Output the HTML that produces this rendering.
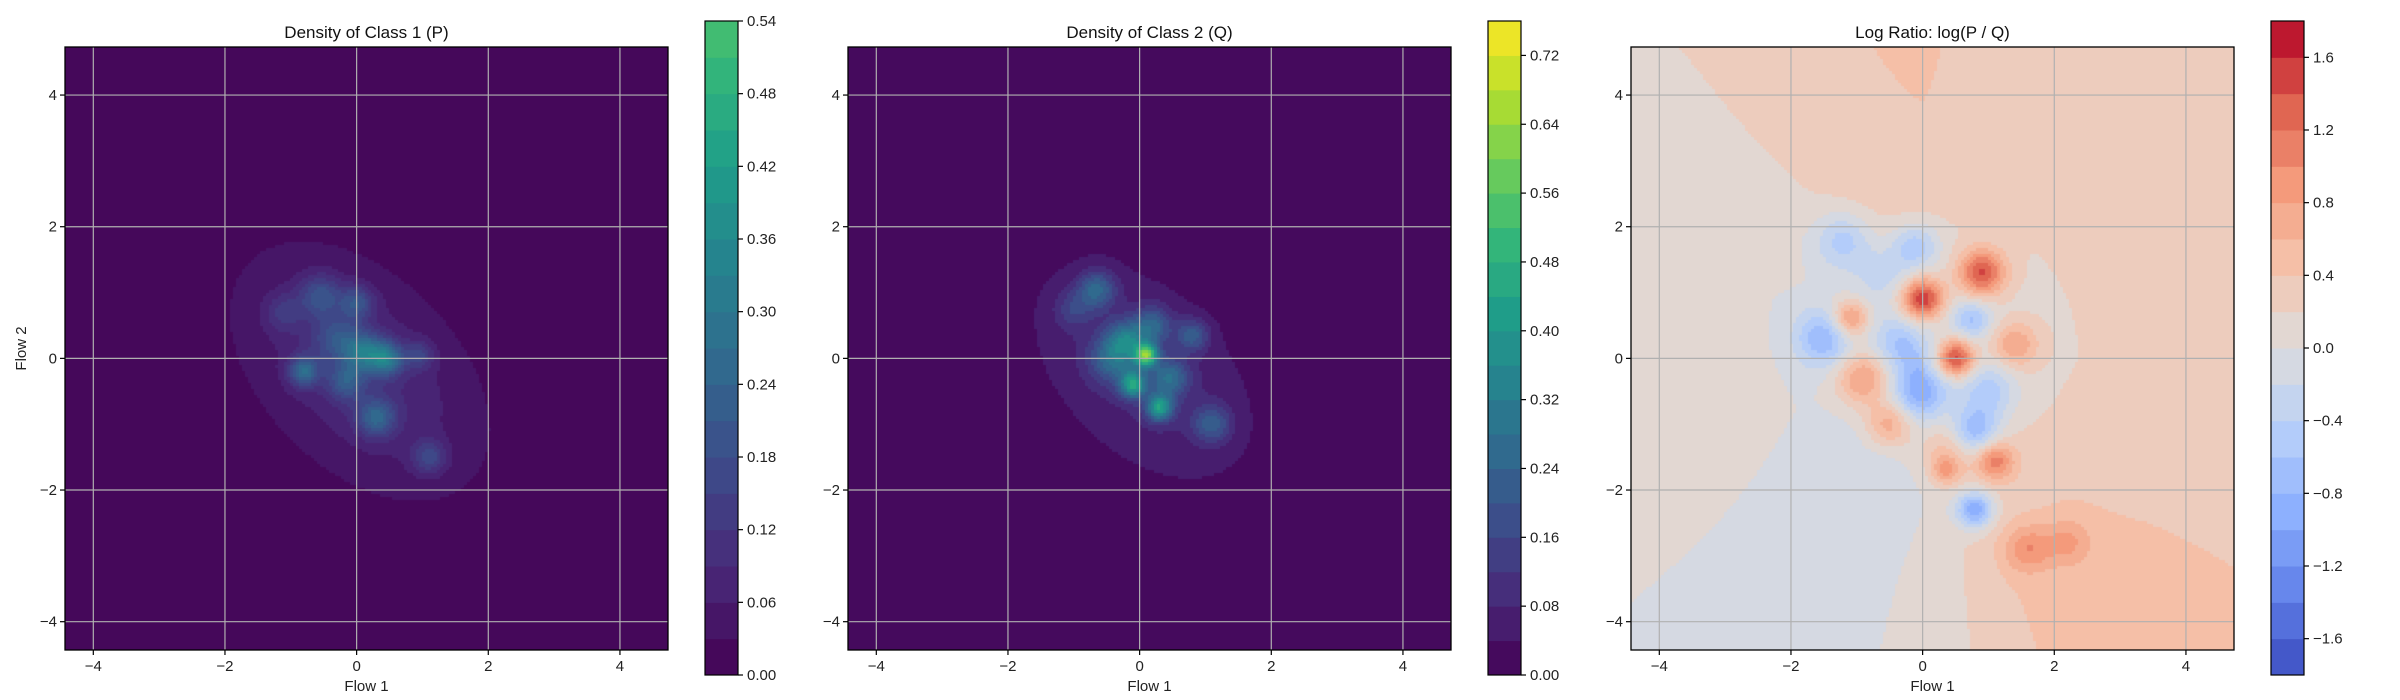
<!DOCTYPE html>
<html><head><meta charset="utf-8">
<style>
html,body{margin:0;padding:0;background:#fff;}
#root{position:relative;width:2400px;height:700px;overflow:hidden;font-family:"Liberation Sans","DejaVu Sans",sans-serif;}
canvas{position:absolute;}
svg{position:absolute;left:0;top:0;}
</style></head>
<body>
<div id="root">
<canvas id="c0" width="603" height="603" style="left:65px;top:47px"></canvas>
<canvas id="c1" width="603" height="603" style="left:848px;top:47px"></canvas>
<canvas id="c2" width="603" height="603" style="left:1631px;top:47px"></canvas>
<svg id="ov" width="2400" height="700"></svg>
</div>
<script>
// ---- data ----
const xTicks = [-4, -2, 0, 2, 4];
const yTicks = [-4, -2, 0, 2, 4];
const axisRange = [-4.43, 4.73];
const titles = ["Density of Class 1 (P)", "Density of Class 2 (Q)", "Log Ratio: log(P / Q)"];
const cbTicks0 = [0.00,0.06,0.12,0.18,0.24,0.30,0.36,0.42,0.48,0.54];
const cbTicks1 = [0.00,0.08,0.16,0.24,0.32,0.40,0.48,0.56,0.64,0.72];
const cbTicks2 = [-1.6,-1.2,-0.8,-0.4,0.0,0.4,0.8,1.2,1.6];
const cbRange0 = [0, 0.54], cbStep0 = 0.03;
const cbRange1 = [0, 0.76], cbStep1 = 0.04;
const cbRange2 = [-1.8, 1.8], cbStep2 = 0.2;
const sharedNorm = [0, 0.76];

// density P blobs
const pX   = [0.05, -0.8, 0.45, 0.3, -0.55, 0.0, 1.1, -0.15, 0.1, -1.1, 0.95, -0.3];
const pY   = [-0.2, -0.2, 0.0, -0.9, 0.95, 0.85, -1.5, -0.35, 0.1, 0.7, 0.05, 0.3];
const pAmp = [0.095, 0.2, 0.24, 0.18, 0.14, 0.14, 0.12, 0.14, 0.2, 0.08, 0.1, 0.12];
const pSig = [1.05, 0.16, 0.18, 0.2, 0.22, 0.18, 0.18, 0.2, 0.2, 0.2, 0.15, 0.25];
// density Q blobs
const qX   = [0.05, 0.1, -0.1, 0.3, -0.65, 0.8, 1.1, -1.0, -0.4, 0.45, 0.2, -0.2];
const qY   = [-0.2, 0.05, -0.4, -0.75, 1.05, 0.35, -1.0, 0.75, 0.0, -0.3, 0.5, 0.3];
const qAmp = [0.095, 0.5, 0.35, 0.35, 0.2, 0.17, 0.17, 0.1, 0.2, 0.2, 0.18, 0.2];
const qSig = [1.0, 0.12, 0.14, 0.14, 0.2, 0.17, 0.2, 0.2, 0.25, 0.2, 0.2, 0.2];
// log ratio blobs
const rX   = [0.0, 0.9, 0.5, -1.1, -0.9, -0.5, 1.1, 1.6, 2.2, 1.4, 0.35, -1.5, 0.0, 0.8, 0.8, -0.1, -1.2, 0.75, -0.3, 1.0, -0.6, 0.3];
const rY   = [0.9, 1.3, 0.0, 0.6, -0.3, -1.0, -1.55, -2.9, -2.8, 0.2, -1.7, 0.3, -0.5, -1.1, -2.3, 1.7, 1.8, 0.6, 0.2, -0.5, 1.3, -1.4];
const rAmp = [1.5, 1.3, 1.5, 1.0, 0.9, 0.8, 0.9, 0.6, 0.45, 0.7, 0.6, -0.8, -0.9, -0.9, -1.2, -0.7, -0.6, -0.7, -0.6, -0.6, -0.4, 0.4];
const rSig = [0.22, 0.25, 0.2, 0.2, 0.3, 0.25, 0.2, 0.25, 0.25, 0.25, 0.15, 0.3, 0.3, 0.25, 0.2, 0.25, 0.3, 0.2, 0.3, 0.3, 0.3, 0.3];
// log-ratio background by angle (0°, 22.5°, ... 337.5°)
const rBg = [0.3, 0.3, 0.3, 0.32, 0.42, 0.38, 0.12, 0.05, 0.08, 0.07, -0.02, -0.08, 0.05, 0.42, 0.45, 0.35];

// ---- helpers ----
const AX0 = [65, 848, 1631], AXT = 47, AXS = 603;
const CB0 = [705, 1488, 2271], CBT = 21, CBB = 675, CBW = 33;
function sx(i, v){ return AX0[i] + (v - axisRange[0]) / (axisRange[1]-axisRange[0]) * AXS; }
function sy(v){ return AXT + (axisRange[1] - v) / (axisRange[1]-axisRange[0]) * AXS; }

const viridis = [[68,1,84],[72,40,120],[62,74,137],[49,104,142],[38,130,142],[31,158,137],[53,183,121],[109,205,89],[180,222,44],[253,231,37]];
const coolwarm = [[59,76,192],[98,130,234],[141,176,254],[184,208,249],[221,220,220],[245,196,173],[244,154,123],[222,96,77],[180,4,38]];
function cmap(tab, t){
  t = Math.max(0, Math.min(1, t));
  const f = t*(tab.length-1), k = Math.min(tab.length-2, Math.floor(f)), u = f-k;
  const a = tab[k], b = tab[k+1];
  return [a[0]+(b[0]-a[0])*u, a[1]+(b[1]-a[1])*u, a[2]+(b[2]-a[2])*u];
}
function bandColorK(tab, k, range, step, norm){
  const mid = range[0] + (k+0.5)*step;
  return cmap(tab, (mid - norm[0])/(norm[1]-norm[0]));
}
function bandColor(tab, v, range, step, norm){
  const n = Math.round((range[1]-range[0])/step);
  let k = Math.floor((v - range[0])/step);
  k = Math.max(0, Math.min(n-1, k));
  return bandColorK(tab, k, range, step, norm);
}
function blobsAt(X,Y,A,S,x,y,start){
  let s = 0;
  for (let j=start;j<X.length;j++){
    const dx=x-X[j], dy=y-Y[j];
    s += A[j]*Math.exp(-(dx*dx+dy*dy)/(2*S[j]*S[j]));
  }
  return s;
}
function densField(X,Y,A,S,x,y){
  const dx=x-X[0], dy=y-Y[0];
  const u=(dx-dy)/Math.SQRT2, w=(dx+dy)/Math.SQRT2;
  const env = A[0]*Math.exp(-(u*u/(2*S[0]*S[0]*2.2) + w*w/(2*S[0]*S[0]*0.85)));
  return env + blobsAt(X,Y,A,S,x,y,1);
}
function ratioField(x,y){
  let ang = Math.atan2(y,x); if (ang<0) ang += 2*Math.PI;
  const f = ang/(2*Math.PI)*rBg.length, k = Math.floor(f)%rBg.length, u=f-Math.floor(f);
  const bg = rBg[k]*(1-u) + rBg[(k+1)%rBg.length]*u;
  const r = Math.sqrt(x*x+y*y);
  const core = Math.exp(-r*r/(2*1.6*1.6));
  return bg*(1-0.6*core) - 0.12*core + blobsAt(rX,rY,rAmp,rSig,x,y,0);
}
function paint(id, fn, tab, range, step, norm){
  const c = document.getElementById(id), g = c.getContext('2d');
  const img = g.createImageData(AXS, AXS), cell = 3;
  for (let py=0; py<AXS; py+=cell){
    for (let px=0; px<AXS; px+=cell){
      const x = axisRange[0] + (px+1.5)/AXS*(axisRange[1]-axisRange[0]);
      const y = axisRange[1] - (py+1.5)/AXS*(axisRange[1]-axisRange[0]);
      const col = bandColor(tab, fn(x,y), range, step, norm);
      for (let a=0;a<cell;a++) for (let b=0;b<cell;b++){
        const X=px+b, Y=py+a; if (X>=AXS||Y>=AXS) continue;
        const o=(Y*AXS+X)*4; img.data[o]=col[0]; img.data[o+1]=col[1]; img.data[o+2]=col[2]; img.data[o+3]=255;
      }
    }
  }
  g.putImageData(img,0,0);
}
paint('c0', (x,y)=>densField(pX,pY,pAmp,pSig,x,y), viridis, cbRange0, cbStep0, sharedNorm);
paint('c1', (x,y)=>densField(qX,qY,qAmp,qSig,x,y), viridis, cbRange1, cbStep1, sharedNorm);
paint('c2', ratioField, coolwarm, cbRange2, cbStep2, cbRange2);

// ---- SVG overlay ----
const NS = "http://www.w3.org/2000/svg", ov = document.getElementById('ov');
function el(tag, attrs, parent){
  const e = document.createElementNS(NS, tag);
  for (const k in attrs) e.setAttribute(k, attrs[k]);
  (parent||ov).appendChild(e); return e;
}
function fmt(v, d){ const s = Math.abs(v).toFixed(d); return (v < -1e-9 ? "\u2212" : "") + s; }
const cbTicksAll = [cbTicks0, cbTicks1, cbTicks2], cbRanges = [cbRange0, cbRange1, cbRange2], cbSteps=[cbStep0,cbStep1,cbStep2], cbDec=[2,2,1];
const cbNorms = [sharedNorm, sharedNorm, cbRange2];
const cmaps = [viridis, viridis, coolwarm], names=['p','q','ratio'];
for (let i=0;i<3;i++){
  const grp = el('g', {});
  
  
  for (const t of xTicks){
    const gl = el('line', {x1:sx(i,t), x2:sx(i,t), y1:AXT, y2:AXT+AXS, stroke:'#b0b0b0', 'stroke-width':1.2}, grp);
    
    
    el('line', {x1:sx(i,t), x2:sx(i,t), y1:AXT+AXS, y2:AXT+AXS+5, stroke:'#000', 'stroke-width':1.2}, grp);
    const tl = el('text', {x:sx(i,t), y:AXT+AXS+21, 'font-size':15, 'text-anchor':'middle', fill:'#222'}, grp);
    tl.textContent = fmt(t,0);
    
    
  }
  for (const t of yTicks){
    const gl = el('line', {x1:AX0[i], x2:AX0[i]+AXS, y1:sy(t), y2:sy(t), stroke:'#b0b0b0', 'stroke-width':1.2}, grp);
    
    
    el('line', {x1:AX0[i]-5, x2:AX0[i], y1:sy(t), y2:sy(t), stroke:'#000', 'stroke-width':1.2}, grp);
    const tl = el('text', {x:AX0[i]-8, y:sy(t)+5, 'font-size':15, 'text-anchor':'end', fill:'#222'}, grp);
    tl.textContent = fmt(t,0);
    
    
  }
  const fr = el('rect', {x:AX0[i], y:AXT, width:AXS, height:AXS, fill:'none', stroke:'#000', 'stroke-width':1.3}, grp);
  
  
  const tt = el('text', {x:AX0[i]+AXS/2, y:38, 'font-size':17, 'text-anchor':'middle', fill:'#111'}, grp);
  tt.textContent = titles[i];
  
  
  const xl = el('text', {x:AX0[i]+AXS/2, y:691, 'font-size':15, 'text-anchor':'middle', fill:'#222'}, grp);
  xl.textContent = 'Flow 1';
  
  
  if (i===0){
    const yl = el('text', {x:0, y:0, 'font-size':15, 'text-anchor':'middle', fill:'#222', transform:'translate(26,'+(AXT+AXS/2)+') rotate(-90)'}, grp);
    yl.textContent = 'Flow 2';
    
    
  }
  const cb = el('g', {}, grp);
  
  
  const rg = cbRanges[i], st = cbSteps[i], n = Math.round((rg[1]-rg[0])/st);
  const cy = v => CBB - (v-rg[0])/(rg[1]-rg[0])*(CBB-CBT);
  for (let k=0;k<n;k++){
    const c = bandColorK(cmaps[i], k, rg, st, cbNorms[i]);
    const y1 = cy(rg[0]+(k+1)*st), y0 = cy(rg[0]+k*st);
    const r = el('rect', {x:CB0[i], y:y1, width:CBW, height:y0-y1+0.5, fill:'rgb('+c.map(Math.round).join(',')+')'}, cb);
    
    
  }
  el('rect', {x:CB0[i], y:CBT, width:CBW, height:CBB-CBT, fill:'none', stroke:'#000', 'stroke-width':1.2}, cb);
  for (const t of cbTicksAll[i]){
    el('line', {x1:CB0[i]+CBW, x2:CB0[i]+CBW+5, y1:cy(t), y2:cy(t), stroke:'#000', 'stroke-width':1.2}, cb);
    const tl = el('text', {x:CB0[i]+CBW+9, y:cy(t)+5, 'font-size':15, fill:'#222'}, cb);
    tl.textContent = fmt(t, cbDec[i]);
    
    
  }
}
</script>
</body></html>
